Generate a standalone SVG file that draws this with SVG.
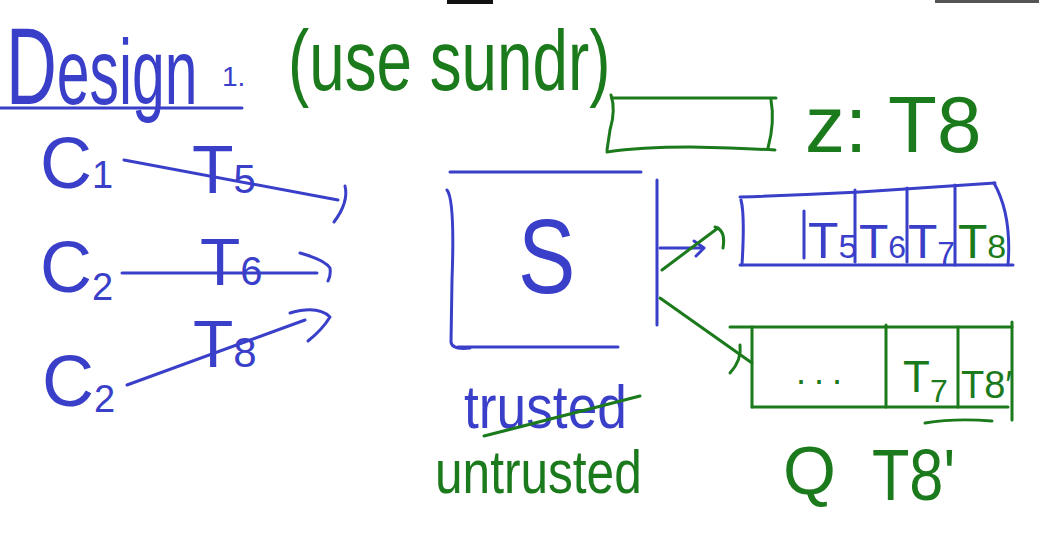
<svg xmlns="http://www.w3.org/2000/svg" width="1039" height="541" viewBox="0 0 1039 541">
<style>
.b{stroke:#3a3fc9;fill:none;stroke-width:3;stroke-linecap:round;stroke-linejoin:round}
.g{stroke:#1b7a1b;fill:none;stroke-width:3;stroke-linecap:round;stroke-linejoin:round}
.tb{fill:#3a3fc9;font-family:"Liberation Sans",Arial,sans-serif}
.tg{fill:#1b7a1b;font-family:"Liberation Sans",Arial,sans-serif}
</style>
<rect x="0" y="0" width="1039" height="541" fill="#ffffff"/>
<rect x="447" y="0" width="46" height="4" fill="#111"/>
<rect x="935" y="0" width="104" height="3" fill="#555"/>

<g id="title">
  <text class="tb" transform="translate(6,104) scale(0.64,1)" font-size="110">D<tspan font-size="92">esign</tspan></text>
  <text class="tb" x="222" y="86" font-size="28">1.</text>
  <line class="b" x1="0" y1="108" x2="242" y2="108"/>
</g>
<g id="subtitle">
  <text class="tg" transform="translate(288,90) scale(0.75,1)" font-size="85">(use sundr)</text>
</g>

<g id="client1">
  <text class="tb" x="40" y="188" font-size="72">C<tspan font-size="38">1</tspan></text>
</g>
<g id="client2">
  <text class="tb" x="40" y="292" font-size="72">C<tspan font-size="38" dy="8">2</tspan></text>
</g>
<g id="client3">
  <text class="tb" x="42" y="406" font-size="72">C<tspan font-size="38" dy="6">2</tspan></text>
</g>

<g id="server">
  <line class="b" x1="450" y1="172" x2="641" y2="172"/>
  <path class="b" d="M447 190 Q455 200 452 280 L451 342 Q452 350 470 348"/>
  <line class="b" x1="458" y1="347" x2="618" y2="347"/>
  <text class="tb" transform="translate(518,293) scale(0.82,1)" font-size="105">S</text>
  <line class="b" x1="657" y1="180" x2="657" y2="325"/>
</g>
<g id="server-label">
  <text class="tb" transform="translate(464,428) scale(0.86,1)" font-size="62">trusted</text>
  <line class="g" x1="484" y1="436" x2="640" y2="396"/>
  <text class="tg" transform="translate(435,493) scale(0.8,1)" font-size="62">untrusted</text>
</g>

<g id="z-box">
  <path class="g" d="M612 98 L776 98"/>
  <path class="g" d="M771 100 Q775 122 768 148"/>
  <path class="g" d="M607 152 Q640 147 690 147 Q740 148 775 150"/>
  <path class="g" d="M611 95 Q616 110 610 130 L607 150"/>
  <text class="tg" x="805" y="152" font-size="80">z: T8</text>
</g>

<g id="log-blue">
  <path class="b" d="M740 197 Q800 195 860 192 L995 183"/>
  <path class="b" d="M741 200 Q745 215 742 265"/>
  <line class="b" x1="740" y1="265" x2="1013" y2="265"/>
  <path class="b" d="M994 183 Q1012 215 1008 265"/>
  <line class="b" x1="855" y1="190" x2="855" y2="262"/>
  <line class="b" x1="907" y1="188" x2="907" y2="262"/>
  <line class="b" x1="955" y1="185" x2="955" y2="265"/>
  <line class="b" x1="804" y1="211" x2="804" y2="258"/>
  <text class="tb" x="808" y="258" font-size="50">T<tspan font-size="34">5</tspan></text>
  <text class="tb" x="859" y="258" font-size="48">T<tspan font-size="32">6</tspan></text>
  <text class="tb" x="908" y="258" font-size="48">T<tspan font-size="32" dy="6">7</tspan></text>
  <text class="tg" x="958" y="258" font-size="48">T<tspan font-size="34">8</tspan></text>
</g>

<g id="log-green">
  <line class="g" x1="730" y1="327" x2="1012" y2="327"/>
  <line class="g" x1="752" y1="327" x2="752" y2="407"/>
  <line class="g" x1="752" y1="407" x2="1008" y2="407"/>
  <line class="g" x1="886" y1="325" x2="886" y2="407"/>
  <line class="g" x1="958" y1="327" x2="958" y2="407"/>
  <line class="g" x1="1012" y1="322" x2="1012" y2="420"/>
  <text class="tg" x="796" y="384" font-size="36" letter-spacing="8">...</text>
  <text class="tg" x="903" y="392" font-size="44">T<tspan font-size="32" dy="10">7</tspan></text>
  <text class="tg" x="961" y="398" font-size="38">T8′</text>
  <path class="g" d="M925 423 Q955 418 992 421"/>
  <text class="tg" x="783" y="494" font-size="68">Q</text>
  <text class="tg" transform="translate(872,500) scale(0.85,1)" font-size="72">T8'</text>
</g>

<g id="connectors">
  <line class="b" x1="124" y1="160" x2="338" y2="200"/>
  <path class="b" d="M345 186 Q349 202 334 222"/>
  <text class="tb" x="192" y="193" font-size="68">T<tspan font-size="40">5</tspan></text>

  <line class="b" x1="122" y1="273" x2="317" y2="273"/>
  <path class="b" d="M300 253 Q325 260 330 268 Q331 276 328 281"/>
  <text class="tb" x="200" y="285" font-size="66">T<tspan font-size="40">6</tspan></text>

  <line class="b" x1="127" y1="385" x2="305" y2="320"/>
  <path class="b" d="M290 313 Q318 305 330 317 Q322 330 308 341"/>
  <text class="tb" x="193" y="367" font-size="66">T<tspan font-size="42">8</tspan></text>

  <line class="b" x1="660" y1="248" x2="703" y2="248"/>
  <path class="b" d="M694 241 L704 248 L696 256"/>
  <line class="g" x1="662" y1="270" x2="718" y2="228"/>
  <path class="g" d="M715 227 Q726 230 723 248"/>
  <line class="g" x1="660" y1="298" x2="752" y2="363"/>
  <path class="g" d="M730 373 Q742 360 740 345"/>
</g>
</svg>
